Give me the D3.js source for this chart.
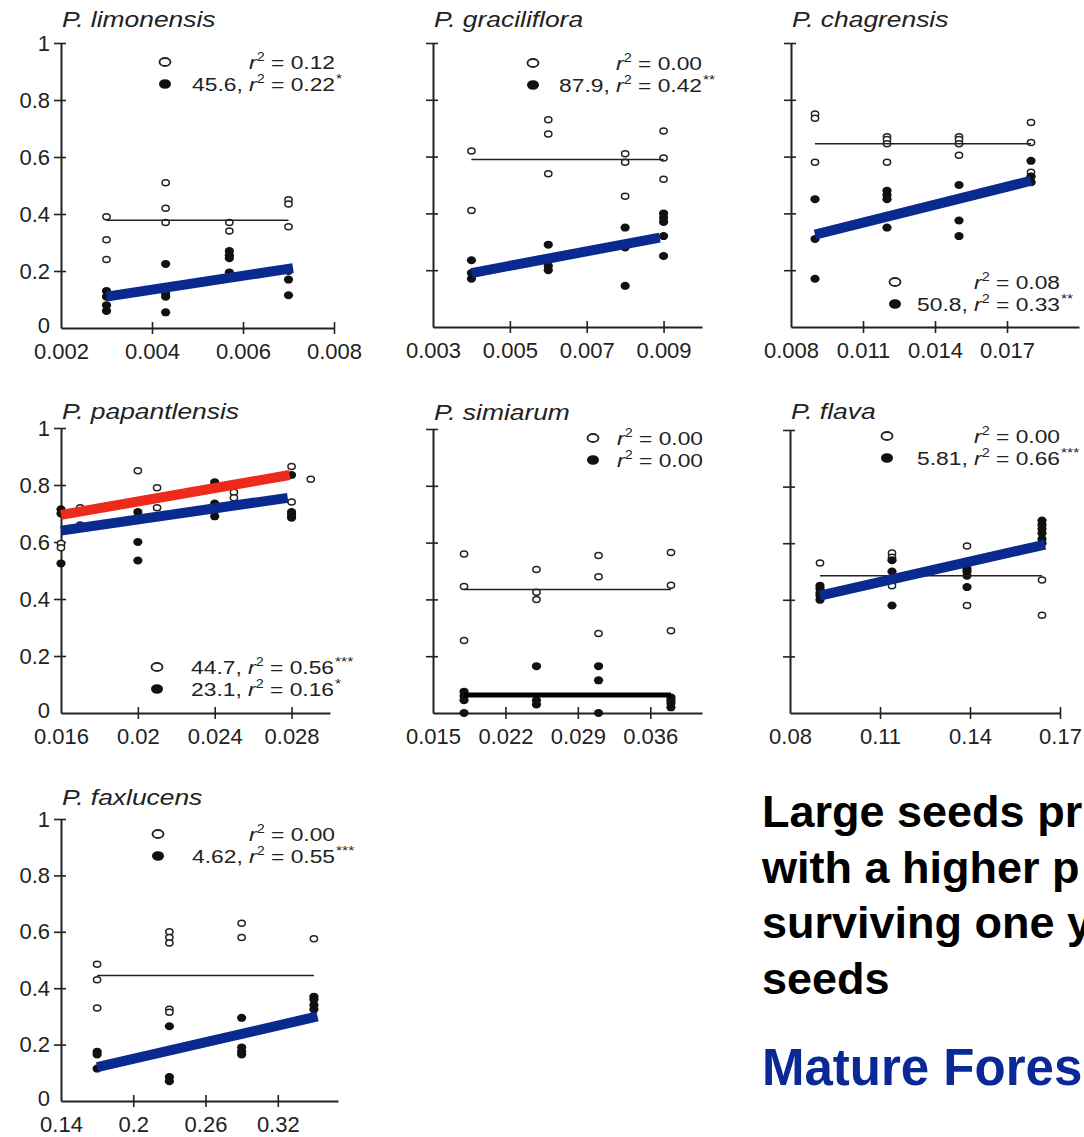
<!DOCTYPE html>
<html>
<head>
<meta charset="utf-8">
<script src="https://cdn.jsdelivr.net/npm/d3@7"></script>
<style>
  body { margin: 0; background: #fff; }
  svg { display: block; font-family: "Liberation Sans", Arial, sans-serif; }
</style>
</head>
<body>
<div id="chart"></div>
<script>
// ---------- values ----------
const species = ["P. limonensis", "P. graciliflora", "P. chagrensis", "P. papantlensis", "P. simiarum", "P. flava", "P. faxlucens"];

const xDomains = [[0.002, 0.008], [0.003, 0.010], [0.008, 0.020], [0.016, 0.030], [0.015, 0.041], [0.08, 0.17], [0.14, 0.37]];
const xTickValues = [
    [0.002, 0.004, 0.006, 0.008], [0.003, 0.005, 0.007, 0.009], [0.008, 0.011, 0.014, 0.017],
    [0.016, 0.02, 0.024, 0.028], [0.015, 0.022, 0.029, 0.036], [0.08, 0.11, 0.14, 0.17], [0.14, 0.2, 0.26, 0.32]
];
const xTickLabels = [
    ["0.002", "0.004", "0.006", "0.008"], ["0.003", "0.005", "0.007", "0.009"], ["0.008", "0.011", "0.014", "0.017"],
    ["0.016", "0.02", "0.024", "0.028"], ["0.015", "0.022", "0.029", "0.036"], ["0.08", "0.11", "0.14", "0.17"], ["0.14", "0.2", "0.26", "0.32"]
];
const yTickValues = [0, 0.2, 0.4, 0.6, 0.8, 1];
const yTickLabels = ["0", "0.2", "0.4", "0.6", "0.8", "1"];

// points: [seed mass, proportion]
const limonensisOpen = [[0.003, 0.39], [0.003, 0.31], [0.003, 0.24], [0.0043, 0.51], [0.0043, 0.42], [0.0043, 0.37],
    [0.0057, 0.37], [0.0057, 0.34], [0.007, 0.45], [0.007, 0.435], [0.007, 0.355]];
const limonensisFilled = [[0.003, 0.13], [0.003, 0.11], [0.003, 0.08], [0.003, 0.06], [0.0043, 0.225], [0.0043, 0.12],
    [0.0043, 0.11], [0.0043, 0.055], [0.0057, 0.27], [0.0057, 0.255], [0.0057, 0.245], [0.0057, 0.195],
    [0.007, 0.20], [0.007, 0.17], [0.007, 0.115]];

const gracilifloraOpen = [[0.004, 0.62], [0.004, 0.41], [0.006, 0.73], [0.006, 0.68], [0.006, 0.54], [0.008, 0.61],
    [0.008, 0.58], [0.008, 0.46], [0.009, 0.69], [0.009, 0.595], [0.009, 0.52]];
const gracilifloraFilled = [[0.004, 0.235], [0.004, 0.19], [0.004, 0.17], [0.006, 0.29], [0.006, 0.215], [0.006, 0.20],
    [0.008, 0.35], [0.008, 0.28], [0.008, 0.145], [0.009, 0.40], [0.009, 0.385], [0.009, 0.37], [0.009, 0.32], [0.009, 0.25]];

const chagrensisOpen = [[0.009, 0.75], [0.009, 0.735], [0.009, 0.58], [0.012, 0.67], [0.012, 0.66], [0.012, 0.645],
    [0.012, 0.58], [0.015, 0.67], [0.015, 0.66], [0.015, 0.645], [0.015, 0.605], [0.018, 0.72], [0.018, 0.65],
    [0.018, 0.545], [0.018, 0.53], [0.018, 0.51]];
const chagrensisFilled = [[0.009, 0.45], [0.009, 0.31], [0.009, 0.17], [0.012, 0.48], [0.012, 0.465], [0.012, 0.45],
    [0.012, 0.35], [0.015, 0.50], [0.015, 0.375], [0.015, 0.32], [0.018, 0.585], [0.018, 0.53], [0.018, 0.51]];

const papantlensisOpen = [[0.016, 0.595], [0.016, 0.58], [0.017, 0.72], [0.017, 0.66], [0.020, 0.85], [0.021, 0.79],
    [0.021, 0.72], [0.024, 0.80], [0.025, 0.775], [0.025, 0.755], [0.028, 0.865], [0.028, 0.74], [0.029, 0.82]];
const papantlensisFilled = [[0.016, 0.715], [0.016, 0.70], [0.016, 0.525], [0.020, 0.705], [0.020, 0.60], [0.020, 0.535],
    [0.024, 0.81], [0.024, 0.735], [0.024, 0.71], [0.024, 0.69], [0.028, 0.835], [0.028, 0.705], [0.028, 0.695], [0.028, 0.685]];

const simiarumOpen = [[0.018, 0.56], [0.018, 0.445], [0.018, 0.255], [0.025, 0.505], [0.025, 0.425], [0.025, 0.40],
    [0.031, 0.555], [0.031, 0.48], [0.031, 0.28], [0.038, 0.565], [0.038, 0.45], [0.038, 0.29]];
const simiarumFilled = [[0.018, 0.075], [0.018, 0.06], [0.018, 0.045], [0.018, 0], [0.025, 0.165], [0.025, 0.045],
    [0.025, 0.03], [0.031, 0.165], [0.031, 0.115], [0.031, 0], [0.038, 0.055], [0.038, 0.045], [0.038, 0.035], [0.038, 0.02]];

const flavaOpen = [[0.09, 0.53], [0.114, 0.565], [0.114, 0.55], [0.114, 0.45], [0.139, 0.59], [0.139, 0.38],
    [0.164, 0.47], [0.164, 0.345]];
const flavaFilled = [[0.09, 0.45], [0.09, 0.44], [0.09, 0.425], [0.09, 0.415], [0.09, 0.40], [0.114, 0.54], [0.114, 0.50],
    [0.114, 0.38], [0.139, 0.51], [0.139, 0.50], [0.139, 0.485], [0.139, 0.445], [0.164, 0.68], [0.164, 0.665],
    [0.164, 0.65], [0.164, 0.635], [0.164, 0.615], [0.164, 0.60]];

const faxlucensOpen = [[0.17, 0.485], [0.17, 0.43], [0.17, 0.33], [0.23, 0.60], [0.23, 0.58], [0.23, 0.56], [0.23, 0.325],
    [0.23, 0.315], [0.29, 0.63], [0.29, 0.58], [0.35, 0.575]];
const faxlucensFilled = [[0.17, 0.175], [0.17, 0.165], [0.17, 0.115], [0.23, 0.265], [0.23, 0.085], [0.23, 0.07],
    [0.29, 0.295], [0.29, 0.19], [0.29, 0.175], [0.29, 0.165], [0.35, 0.37], [0.35, 0.36], [0.35, 0.34], [0.35, 0.325]];

// fitted lines: series, x ends, y ends
const limonensisFits = [{ series: "open", x: [0.003, 0.007], y: [0.378, 0.378] }, { series: "filled", x: [0.003, 0.0071], y: [0.11, 0.21] }];
const gracilifloraFits = [{ series: "open", x: [0.004, 0.009], y: [0.59, 0.59] }, { series: "filled", x: [0.004, 0.0089], y: [0.19, 0.315] }];
const chagrensisFits = [{ series: "open", x: [0.009, 0.018], y: [0.645, 0.645] }, { series: "filled", x: [0.009, 0.018], y: [0.325, 0.515] }];
const papantlensisFits = [{ series: "open", x: [0.016, 0.0279], y: [0.695, 0.835] }, { series: "filled", x: [0.016, 0.0278], y: [0.64, 0.755] }];
const simiarumFits = [{ series: "open", x: [0.018, 0.038], y: [0.435, 0.435] }, { series: "filled", x: [0.018, 0.038], y: [0.063, 0.063] }];
const flavaFits = [{ series: "open", x: [0.09, 0.164], y: [0.485, 0.485] }, { series: "filled", x: [0.09, 0.165], y: [0.415, 0.595] }];
const faxlucensFits = [{ series: "open", x: [0.17, 0.35], y: [0.445, 0.445] }, { series: "filled", x: [0.17, 0.353], y: [0.12, 0.30] }];

// legend entries: coefficient, r squared, significance stars
const limonensisLegend = [{ coef: "", r2: "0.12", stars: "" }, { coef: "45.6", r2: "0.22", stars: "*" }];
const gracilifloraLegend = [{ coef: "", r2: "0.00", stars: "" }, { coef: "87.9", r2: "0.42", stars: "**" }];
const chagrensisLegend = [{ coef: "", r2: "0.08", stars: "" }, { coef: "50.8", r2: "0.33", stars: "**" }];
const papantlensisLegend = [{ coef: "44.7", r2: "0.56", stars: "***" }, { coef: "23.1", r2: "0.16", stars: "*" }];
const simiarumLegend = [{ coef: "", r2: "0.00", stars: "" }, { coef: "", r2: "0.00", stars: "" }];
const flavaLegend = [{ coef: "", r2: "0.00", stars: "" }, { coef: "5.81", r2: "0.66", stars: "***" }];
const faxlucensLegend = [{ coef: "", r2: "0.00", stars: "" }, { coef: "4.62", r2: "0.55", stars: "***" }];

const textLines = ["Large seeds pr", "with a higher p", "surviving one y", "seeds"];
const subtitle = "Mature Fores";

// ---------- layout (pixels) ----------
const panels = [
    { left: 61, right: 334, top: 43, bottom: 328, titleY: 27, yLabels: true, legX: 165, legY: 62, legEnd: 335 },
    { left: 433, right: 702, top: 43, bottom: 327, titleY: 27, yLabels: false, legX: 533, legY: 63, legEnd: 702 },
    { left: 791, right: 1079, top: 43, bottom: 327, titleY: 27, yLabels: false, legX: 895, legY: 282, legEnd: 1060 },
    { left: 61, right: 330, top: 428, bottom: 713, titleY: 419, yLabels: true, legX: 157, legY: 667, legEnd: 334 },
    { left: 433, right: 702, top: 429, bottom: 713, titleY: 420, yLabels: false, legX: 593, legY: 438, legEnd: 703 },
    { left: 790, right: 1060, top: 430, bottom: 713, titleY: 419, yLabels: false, legX: 887, legY: 436, legEnd: 1060 },
    { left: 61, right: 338, top: 819, bottom: 1101, titleY: 805, yLabels: true, legX: 158, legY: 834, legEnd: 335 }
];

const openSets = [limonensisOpen, gracilifloraOpen, chagrensisOpen, papantlensisOpen, simiarumOpen, flavaOpen, faxlucensOpen];
const filledSets = [limonensisFilled, gracilifloraFilled, chagrensisFilled, papantlensisFilled, simiarumFilled, flavaFilled, faxlucensFilled];
const fitSets = [limonensisFits, gracilifloraFits, chagrensisFits, papantlensisFits, simiarumFits, flavaFits, faxlucensFits];
const legendSets = [limonensisLegend, gracilifloraLegend, chagrensisLegend, papantlensisLegend, simiarumLegend, flavaLegend, faxlucensLegend];

const ink = "#222";
const blue = "#0b2a8f";
const red = "#ee2a1c";

const svg = d3.select("#chart").append("svg")
    .attr("width", 1084)
    .attr("height", 1137);

panels.forEach((p, i) => {
    const g = svg.append("g");
    const x = d3.scaleLinear().domain(xDomains[i]).range([p.left, p.right]);
    const y = d3.scaleLinear().domain([0, 1]).range([p.bottom, p.top]);

    // species name
    g.append("text")
        .attr("transform", `translate(${p.left + 1},${p.titleY}) scale(1.2,1)`)
        .style("font-size", "22px")
        .style("font-style", "italic")
        .attr("fill", ink)
        .text(species[i]);

    // x axis with crossing ticks
    const xa = g.append("g")
        .attr("transform", `translate(0,${p.bottom})`)
        .call(d3.axisBottom(x).tickValues(xTickValues[i]).tickSizeOuter(0)
            .tickFormat((d, k) => xTickLabels[i][k]))
        .attr("font-size", 22).attr("font-family", null);
    xa.select(".domain").attr("stroke", ink).attr("stroke-width", 2);
    xa.selectAll(".tick line").attr("y1", -6).attr("y2", 6).attr("stroke", ink).attr("stroke-width", 1.6)
        .filter((d, k) => k === 0).remove();
    xa.selectAll(".tick text").attr("y", 15).attr("fill", ink);

    // y axis
    const ya = g.append("g")
        .attr("transform", `translate(${p.left},0)`)
        .call(d3.axisLeft(y).tickValues(yTickValues).tickSizeOuter(0)
            .tickFormat((d, k) => p.yLabels ? yTickLabels[k] : ""))
        .attr("font-size", 22).attr("font-family", null);
    ya.select(".domain").attr("stroke", ink).attr("stroke-width", 2);
    ya.selectAll(".tick line").attr("x1", -7).attr("x2", 5).attr("stroke", ink).attr("stroke-width", 1.6)
        .filter(d => d === 0).remove();
    ya.selectAll(".tick text").attr("x", -11).attr("fill", ink)
        .filter(d => d === 0).attr("y", -3);

    // open circles
    g.selectAll("ellipse.open")
        .data(openSets[i])
        .enter()
        .append("ellipse")
        .attr("class", "open")
        .attr("cx", d => x(d[0]))
        .attr("cy", d => y(d[1]))
        .attr("rx", 3.6).attr("ry", 3)
        .attr("fill", "#fff")
        .attr("stroke", ink)
        .attr("stroke-width", 1.5);

    // filled circles
    g.selectAll("ellipse.filled")
        .data(filledSets[i])
        .enter()
        .append("ellipse")
        .attr("class", "filled")
        .attr("cx", d => x(d[0]))
        .attr("cy", d => y(d[1]))
        .attr("rx", 4.6).attr("ry", 4)
        .attr("fill", "#111");

    // fitted lines, styled by significance from the legend
    const fits = fitSets[i].map(f => {
        const sig = legendSets[i][f.series === "open" ? 0 : 1].stars !== "";
        let stroke = ink, width = 1.6;
        if (sig) { stroke = f.series === "open" ? red : blue; width = 10; }
        else if (f.series === "filled") { stroke = "#000"; width = 5; }
        return Object.assign({ stroke, width }, f);
    }).sort((a, b) => a.width - b.width);

    g.selectAll("line.fit")
        .data(fits)
        .enter()
        .append("line")
        .attr("class", "fit")
        .attr("x1", d => x(d.x[0])).attr("y1", d => y(d.y[0]))
        .attr("x2", d => x(d.x[1])).attr("y2", d => y(d.y[1]))
        .attr("stroke", d => d.stroke)
        .attr("stroke-width", d => d.width);

    // legend
    legendSets[i].forEach((item, r) => {
        const cy = p.legY + r * 22;
        g.append("ellipse")
            .attr("cx", p.legX).attr("cy", cy)
            .attr("rx", r === 0 ? 5.5 : 6).attr("ry", r === 0 ? 4 : 4.8)
            .attr("fill", r === 0 ? "#fff" : "#111")
            .attr("stroke", ink)
            .attr("stroke-width", r === 0 ? 1.8 : 0);

        const t = g.append("text")
            .attr("transform", `translate(${p.legEnd},${cy + 7}) scale(1.2,1)`)
            .attr("text-anchor", "end")
            .attr("fill", ink)
            .style("font-size", "19px");
        t.append("tspan").text(item.coef ? item.coef + ", " : "");
        t.append("tspan").style("font-style", "italic").text("r");
        t.append("tspan").attr("dy", -8).style("font-size", "12px").text("2");
        t.append("tspan").attr("dy", 8).text(" = " + item.r2);

        if (item.stars) {
            g.append("text")
                .attr("transform", `translate(${p.legEnd + 1},${cy - 1}) scale(1.2,1)`)
                .attr("fill", ink)
                .style("font-size", "13px")
                .text(item.stars);
        }
    });
});

// ---------- slide text ----------
svg.selectAll("text.note")
    .data(textLines)
    .enter()
    .append("text")
    .attr("class", "note")
    .attr("x", 762)
    .attr("y", (d, k) => 827 + k * 55.5)
    .style("font-size", "45px")
    .style("font-weight", "bold")
    .attr("fill", "#000")
    .text(d => d);

svg.append("text")
    .attr("x", 762)
    .attr("y", 1085)
    .style("font-size", "51px")
    .style("font-weight", "bold")
    .attr("fill", "#0a2896")
    .text(subtitle);
</script>
</body>
</html>
